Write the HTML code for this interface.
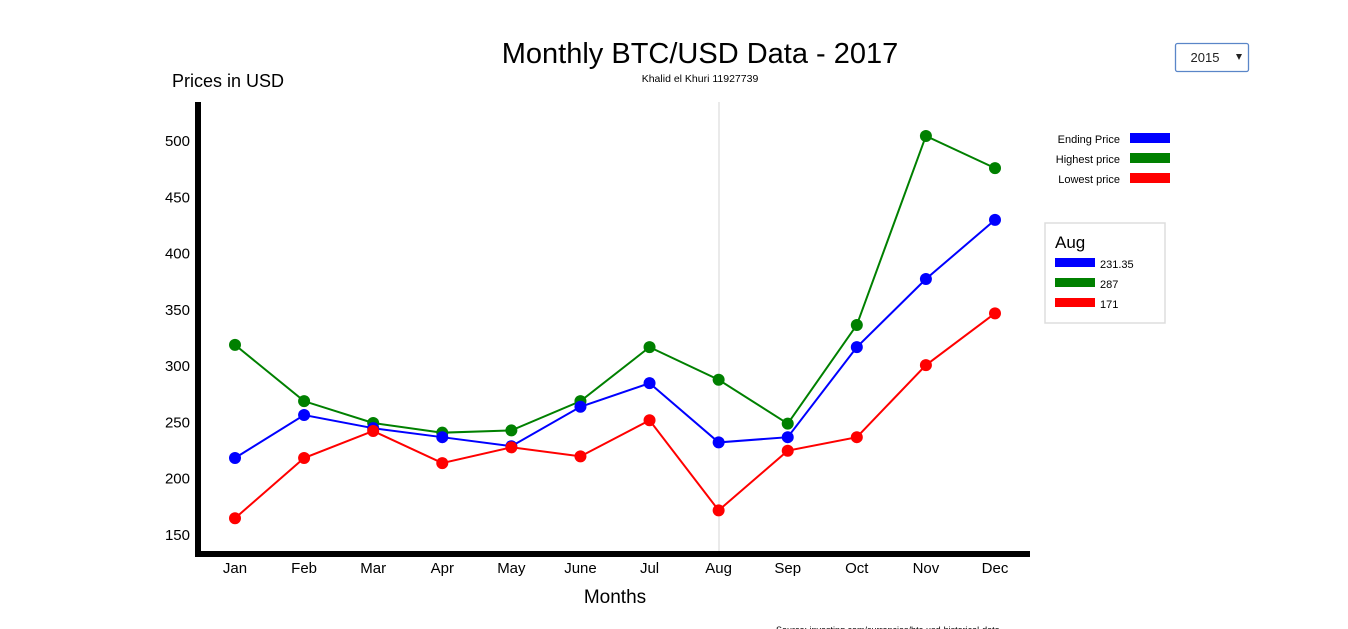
<!DOCTYPE html>
<html><head><meta charset="utf-8"><style>
body{margin:0;background:#fff;font-family:"Liberation Sans",sans-serif;}
svg{display:block}
text{font-family:"Liberation Sans",sans-serif}
</style></head><body>
<svg width="1348" height="629">
<text x="700" y="63" text-anchor="middle" font-size="29" fill="#000">Monthly BTC/USD Data - 2017</text>
<text x="700" y="82" text-anchor="middle" font-size="10.5" fill="#000">Khalid el Khuri 11927739</text>
<text x="172" y="87" font-size="18" fill="#000">Prices in USD</text>
<text x="615" y="603" text-anchor="middle" font-size="19" fill="#000">Months</text>
<text x="776" y="633" font-size="9" fill="#000">Source: investing.com/currencies/btc-usd-historical-data</text>
<g>
<rect x="1175.5" y="43.5" width="73" height="28" rx="2" fill="#fff" stroke="#5a86c8" stroke-width="1.3"/>
<text x="1205" y="62" text-anchor="middle" font-size="13" fill="#222">2015</text>
<path d="M1236 54 L1242 54 L1239 60 Z" fill="#222"/>
</g>
<line x1="719" y1="102" x2="719" y2="551" stroke="#ddd" stroke-width="1.2"/>
<g id="yaxis"></g>
<g id="xaxis"></g>
<g id="series"></g>
<rect x="195" y="102" width="6" height="455" fill="#000"/>
<rect x="198" y="551" width="832" height="6" fill="#000"/>
<g>
<text x="1120" y="143" text-anchor="end" font-size="11">Ending Price</text>
<rect x="1130" y="133" width="40" height="10" fill="#0000ff"/>
<text x="1120" y="163" text-anchor="end" font-size="11">Highest price</text>
<rect x="1130" y="153" width="40" height="10" fill="#008000"/>
<text x="1120" y="183" text-anchor="end" font-size="11">Lowest price</text>
<rect x="1130" y="173" width="40" height="10" fill="#ff0000"/>
</g>
<g>
<rect x="1045" y="223" width="120" height="100" fill="#fff" stroke="#ddd" stroke-width="1.5"/>
<text x="1055" y="248" font-size="17" id="tipMonth">Aug</text>
<rect x="1055" y="258" width="40" height="9" fill="#0000ff"/><text x="1100" y="268" font-size="11" id="tip0">231.35</text>
<rect x="1055" y="278" width="40" height="9" fill="#008000"/><text x="1100" y="288" font-size="11" id="tip1">287</text>
<rect x="1055" y="298" width="40" height="9" fill="#ff0000"/><text x="1100" y="308" font-size="11" id="tip2">171</text>
</g>
</svg>
<script>
const months=["Jan","Feb","Mar","Apr","May","June","Jul","Aug","Sep","Oct","Nov","Dec"];
const ending=[217.5,255.7,244,236,228,263,284,231.35,236,316,376.5,429];
const highest=[318,268,248.6,240,242,268,316,287,248,335.7,503.6,475];
const lowest=[164,217.5,241.5,213,227,219,251,171,224,236,300,346];
const yTicks=[150,200,250,300,350,400,450,500];
const NS="http://www.w3.org/2000/svg";
function x(i){return 235+i*(995-235)/11;}
function y(v){return 534-(v-150)*(394/350);}
function mk(t,a,p){const e=document.createElementNS(NS,t);for(const k in a)e.setAttribute(k,a[k]);p.appendChild(e);return e;}
const ya=document.getElementById('yaxis'),xa=document.getElementById('xaxis'),sg=document.getElementById('series');
yTicks.forEach(v=>{const t=mk('text',{x:190,y:y(v)+6,'text-anchor':'end','font-size':15},ya);t.textContent=v;

});
months.forEach((m,i)=>{const t=mk('text',{x:x(i),y:573,'text-anchor':'middle','font-size':15},xa);t.textContent=m;

});
[[highest,'#008000','highest'],[ending,'#0000ff','ending'],[lowest,'#ff0000','lowest']].forEach(([d,c,n])=>{
const p=mk('polyline',{points:d.map((v,i)=>x(i)+','+y(v)).join(' '),fill:'none',stroke:c,'stroke-width':2},sg);


d.forEach((v,i)=>{const ci=mk('circle',{cx:x(i),cy:y(v),r:6,fill:c},sg);

});
});
</script>
</body></html>
